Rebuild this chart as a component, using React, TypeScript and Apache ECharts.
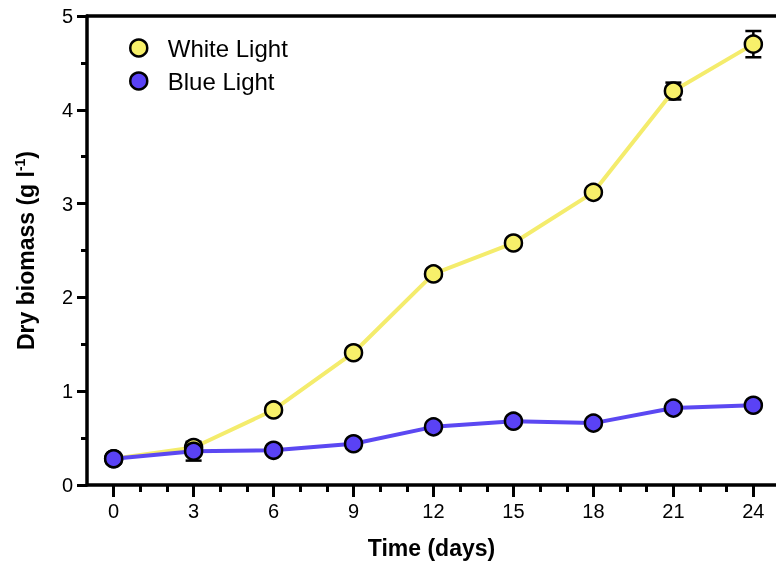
import React, { useEffect, useRef } from "react";
import * as echarts from "echarts";

const days = [0, 3, 6, 9, 12, 15, 18, 21, 24];
const whiteLight = [0.28, 0.4, 0.8, 1.41, 2.25, 2.58, 3.12, 4.2, 4.7];
const whiteErr = [0.02, 0.05, 0.03, 0.03, 0.03, 0.03, 0.03, 0.09, 0.14];
const blueLight = [0.28, 0.36, 0.37, 0.44, 0.62, 0.68, 0.66, 0.82, 0.85];
const blueErr = [0.02, 0.1, 0.02, 0.02, 0.02, 0.02, 0.02, 0.02, 0.02];
const majorTicks = [0, 3, 6, 9, 12, 15, 18, 21, 24];
const minorTicks = [1, 2, 4, 5, 7, 8, 10, 11, 13, 14, 16, 17, 19, 20, 22, 23];

const FONT = "'Liberation Sans', Arial, Helvetica, sans-serif";
const YELLOW = "#F7F06A";
const YELLOW_LINE = "#F4EC6C";
const BLUE = "#5A42F5";
const BLUE_LINE = "#5B48F2";

function errSeries(name: string, vals: number[], errs: number[], show: boolean[]) {
  return {
    type: "custom",
    name: name + " err",
    z: 1,
    silent: true,
    data: days.map((d, i) => [d, vals[i], errs[i]]).filter((_, i) => show[i]),
    renderItem: (params: any, api: any) => {
      const x = api.value(0);
      const y = api.value(1);
      const e = api.value(2);
      const top = api.coord([x, y + e]);
      const bot = api.coord([x, y - e]);
      const hw = 8;
      const st = { stroke: "#000", lineWidth: 2.5 };
      return {
        type: "group",
        children: [
          { type: "line", shape: { x1: top[0], y1: top[1], x2: bot[0], y2: bot[1] }, style: st },
          { type: "line", shape: { x1: top[0] - hw, y1: top[1], x2: top[0] + hw, y2: top[1] }, style: st },
          { type: "line", shape: { x1: bot[0] - hw, y1: bot[1], x2: bot[0] + hw, y2: bot[1] }, style: st },
        ],
      };
    },
  };
}

export default function App() {
  const ref = useRef<HTMLDivElement>(null);
  useEffect(() => {
    if (!ref.current) return;
    const chart = echarts.init(ref.current, null, { renderer: "svg" });
    const axisLine = { show: true, onZero: false, lineStyle: { color: "#000", width: 3.5 } };
    chart.setOption({
      animation: false,
      textStyle: { fontFamily: FONT },
      grid: { left: 87, right: 0, top: 16, bottom: 80, containLabel: false },
      legend: {
        orient: "vertical",
        left: 124,
        top: 31,
        itemWidth: 48,
        itemHeight: 17,
        itemGap: 9,
        icon: "circle",
        textStyle: { fontSize: 24, color: "#000", fontFamily: FONT },
        data: [
          { name: "White Light", itemStyle: { color: YELLOW, borderColor: "#000", borderWidth: 2.5 } },
          { name: "Blue Light", itemStyle: { color: BLUE, borderColor: "#000", borderWidth: 2.5 } },
        ],
      },
      xAxis: [
        {
          type: "value",
          min: -1,
          max: 24.85,
          position: "bottom",
          axisLine,
          splitLine: { show: false },
          axisTick: { show: true, customValues: majorTicks, length: 12, lineStyle: { color: "#000", width: 3 } },
          axisLabel: { customValues: majorTicks, fontSize: 20, color: "#000", margin: 16, fontFamily: FONT },
          name: "Time (days)",
          nameLocation: "middle",
          nameGap: 51,
          nameTextStyle: { fontSize: 23, fontWeight: "bold", color: "#000", fontFamily: FONT },
        },
        {
          type: "value",
          min: -1,
          max: 24.85,
          position: "bottom",
          axisLine: { show: false, onZero: false },
          splitLine: { show: false },
          axisTick: { show: true, customValues: minorTicks, length: 7, lineStyle: { color: "#000", width: 3 } },
          axisLabel: { show: false },
        },
        {
          type: "value",
          min: -1,
          max: 24.85,
          position: "top",
          axisLine,
          splitLine: { show: false },
          axisTick: { show: false },
          axisLabel: { show: false },
        },
      ],
      yAxis: {
        type: "value",
        min: 0,
        max: 5,
        interval: 1,
        axisLine,
        splitLine: { show: false },
        axisTick: { show: true, length: 10, lineStyle: { color: "#000", width: 3 } },
        minorTick: { show: true, splitNumber: 2, length: 6, lineStyle: { color: "#000", width: 3 } },
        minorSplitLine: { show: false },
        axisLabel: { fontSize: 20, color: "#000", margin: 14, fontFamily: FONT },
        name: "{a|Dry biomass (g l}{s|-1}{a|)}",
        nameLocation: "middle",
        nameGap: 49,
        nameTextStyle: {
          fontFamily: FONT,
          rich: {
            a: { fontSize: 23, fontWeight: "bold", color: "#000", fontFamily: FONT },
            s: { fontSize: 14, fontWeight: "bold", color: "#000", fontFamily: FONT, verticalAlign: "top", padding: [0, 0, 11, 0] },
          },
        },
      },
      series: [
        errSeries("White Light", whiteLight, whiteErr, [false, true, false, false, false, false, false, true, true]),
        errSeries("Blue Light", blueLight, blueErr, [false, true, false, false, false, false, false, false, false]),
        {
          type: "line",
          name: "White Light",
          z: 2,
          data: days.map((d, i) => [d, whiteLight[i]]),
          symbol: "circle",
          symbolSize: 17,
          lineStyle: { color: YELLOW_LINE, width: 4 },
          itemStyle: { color: YELLOW, borderColor: "#000", borderWidth: 2.5 },
        },
        {
          type: "line",
          name: "Blue Light",
          z: 3,
          data: days.map((d, i) => [d, blueLight[i]]),
          symbol: "circle",
          symbolSize: 17,
          lineStyle: { color: BLUE_LINE, width: 4 },
          itemStyle: { color: BLUE, borderColor: "#000", borderWidth: 2.5 },
        },
      ],
    });
    return () => chart.dispose();
  }, []);
  return <div ref={ref} style={{ width: 776, height: 565, position: "fixed", left: 0, top: 0 }} />;
}
